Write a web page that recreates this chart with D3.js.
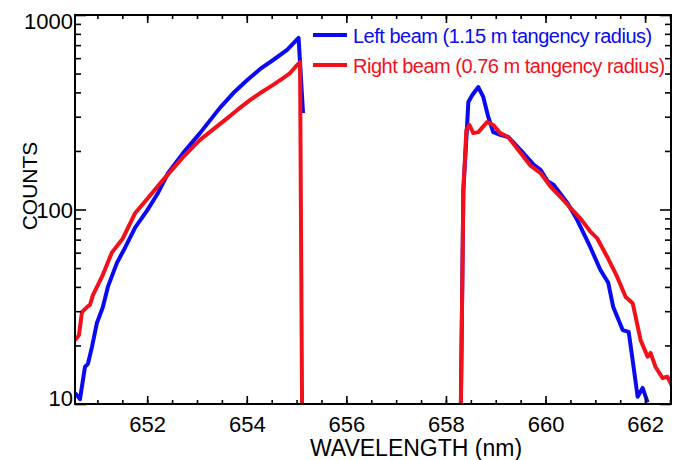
<!DOCTYPE html>
<html>
<head>
<meta charset="utf-8">
<script src="https://cdn.jsdelivr.net/npm/d3@7"></script>
<style>
  body { margin: 0; background: #fff; }
  text { font-family: "Liberation Sans", Arial, Helvetica, sans-serif; }
</style>
</head>
<body>
<div id="chart"></div>
<script>
// left beam (blue), two pieces separated by null
var leftWavelength = [650.55, 650.65, 650.75, 650.81, 650.89, 650.99, 651.11, 651.21, 651.39, 651.56,
    651.76, 652.00, 652.22, 652.42, 652.72, 653.06, 653.46, 653.73, 654.01, 654.27, 654.53, 654.81,
    655.04, 655.13,
    null,
    658.30, 658.35, 658.42, 658.45, 658.53, 658.65, 658.75, 658.85, 658.95, 659.09, 659.25, 659.50,
    659.76, 659.90, 660.04, 660.16, 660.44, 660.64, 660.90, 661.10, 661.26, 661.36, 661.55, 661.67,
    661.75, 661.85, 661.95, 662.05]
var leftCounts = [11.4, 10.6, 15.5, 16.1, 19.6, 26.1, 31.5, 40, 53, 64,
    81, 99, 122, 154, 195, 247, 333, 397, 463, 528, 587, 661,
    762, 313,
    null,
    10, 126, 256, 357, 388, 426, 379, 299, 250, 242, 236, 202,
    170, 160, 140, 134, 108, 88, 64, 49, 42, 31.5, 24, 23.5,
    16.8, 10.9, 12.1, 10.2]

// right beam (red)
var rightWavelength = [650.55, 650.63, 650.69, 650.79, 650.85, 650.91, 651.09, 651.29, 651.51, 651.76,
    652.02, 652.32, 652.72, 653.06, 653.61, 653.81, 654.07, 654.27, 654.53, 654.73, 654.87, 655.01,
    655.07, 655.11,
    null,
    658.30, 658.35, 658.41, 658.47, 658.55, 658.65, 658.83, 658.95, 659.09, 659.25, 659.50, 659.70,
    659.90, 660.10, 660.30, 660.50, 660.70, 660.90, 661.04, 661.24, 661.44, 661.61, 661.75, 661.91,
    662.05, 662.11, 662.21, 662.35, 662.45, 662.55]
var rightCounts = [21.3, 22.6, 29.7, 31.5, 32.3, 36.3, 45, 60, 71, 96,
    115, 142, 186, 228, 295, 325, 366, 397, 437, 474, 503, 553,
    573, 10,
    null,
    10, 126, 256, 272, 247, 250, 282, 272, 247, 236, 195, 168,
    154, 131, 116, 102, 90, 77, 71, 57, 45, 35.5, 33, 21.3,
    17.5, 18.3, 15.5, 13.6, 13.8, 12.2]

var seriesNames = ["Left beam (1.15 m tangency radius)", "Right beam (0.76 m tangency radius)"]
var seriesColors = ["#0a0af2", "#f2101a"]

var xMajor = [652, 654, 656, 658, 660, 662]
var xMinor = d3.range(651, 662.6, 0.5)
var yMajor = [10, 100, 1000]
var yMinor = [20, 30, 40, 50, 60, 70, 80, 90, 200, 300, 400, 500, 600, 700, 800, 900]

var width = 686, height = 460
var plotLeft = 75, plotRight = 671, plotTop = 15, plotBottom = 404

var svg = d3.select("#chart").append("svg")
    .attr("width", width)
    .attr("height", height)

var x = d3.scaleLinear().domain([650.55, 662.52]).range([plotLeft, plotRight])
var y = d3.scaleLog().domain([10, 1000]).range([plotBottom, plotTop])

svg.append("clipPath").attr("id", "plotclip")
  .append("rect")
    .attr("x", plotLeft).attr("y", plotTop)
    .attr("width", plotRight - plotLeft).attr("height", plotBottom - plotTop)

// curves
var series = [
  {name: seriesNames[0], color: seriesColors[0], wl: leftWavelength, c: leftCounts},
  {name: seriesNames[1], color: seriesColors[1], wl: rightWavelength, c: rightCounts}
]

var line = d3.line()
    .defined(function(d) { return d[0] != null })
    .x(function(d) { return x(d[0]) })
    .y(function(d) { return y(d[1]) })

series.forEach(function(s) {
  var pts = s.wl.map(function(w, i) { return [w, s.c[i]] })
  svg.append("path")
    .attr("d", line(pts))
    .attr("clip-path", "url(#plotclip)")
    .attr("fill", "none")
    .attr("stroke", s.color)
    .attr("stroke-width", 4)
    .attr("stroke-linejoin", "round")
})

// axes, ticks pointing inward
function styleAxis(g) {
  g.select(".domain").remove()
  g.selectAll(".tick line").attr("stroke", "#000").attr("stroke-width", 1.6)
  g.selectAll("text").attr("fill", "#000").style("font-size", "22px")
}

svg.append("g").attr("transform", "translate(0," + plotBottom + ")")
  .call(d3.axisBottom(x).tickValues(xMinor).tickSize(-4).tickFormat(""))
  .call(styleAxis)
svg.append("g").attr("transform", "translate(0," + plotBottom + ")")
  .call(d3.axisBottom(x).tickValues(xMajor).tickSize(-8).tickPadding(12).tickFormat(d3.format("d")))
  .call(styleAxis)
svg.append("g").attr("transform", "translate(0," + plotTop + ")")
  .call(d3.axisTop(x).tickValues(xMinor).tickSize(-4).tickFormat(""))
  .call(styleAxis)
svg.append("g").attr("transform", "translate(0," + plotTop + ")")
  .call(d3.axisTop(x).tickValues(xMajor).tickSize(-8).tickFormat(""))
  .call(styleAxis)

svg.append("g").attr("transform", "translate(" + plotLeft + ",0)")
  .call(d3.axisLeft(y).tickValues(yMinor).tickSize(-6).tickFormat(""))
  .call(styleAxis)
var yAxisG = svg.append("g").attr("transform", "translate(" + plotLeft + ",0)")
  .call(d3.axisLeft(y).tickValues(yMajor).tickSize(-11).tickPadding(2).tickFormat(d3.format("d")))
  .call(styleAxis)
yAxisG.selectAll(".tick text")
  .attr("dy", function(d) { return d == 1000 ? "0.62em" : d == 10 ? "0.05em" : "0.35em" })
svg.append("g").attr("transform", "translate(" + plotRight + ",0)")
  .call(d3.axisRight(y).tickValues(yMinor).tickSize(-6).tickFormat(""))
  .call(styleAxis)
svg.append("g").attr("transform", "translate(" + plotRight + ",0)")
  .call(d3.axisRight(y).tickValues(yMajor).tickSize(-11).tickFormat(""))
  .call(styleAxis)

svg.append("rect")
    .attr("x", plotLeft).attr("y", plotTop)
    .attr("width", plotRight - plotLeft).attr("height", plotBottom - plotTop)
    .attr("fill", "none")
    .attr("stroke", "#000")
    .attr("stroke-width", 2)

// axis titles
svg.append("text")
    .attr("x", 416).attr("y", 456)
    .attr("text-anchor", "middle")
    .style("font-size", "23px")
    .text("WAVELENGTH (nm)")

svg.append("text")
    .attr("transform", "translate(37,186) rotate(-90)")
    .attr("text-anchor", "middle")
    .style("font-size", "21px")
    .text("COUNTS")

// legend
var legend = svg.selectAll(".legend")
    .data(series)
    .enter().append("g")
    .attr("class", "legend")
    .attr("transform", function(d, i) { return "translate(313," + (35 + i * 30) + ")" })

legend.append("line")
    .attr("x1", 0).attr("x2", 34)
    .attr("stroke", function(d) { return d.color })
    .attr("stroke-width", 4)

legend.append("text")
    .attr("x", 40).attr("y", 7.5)
    .attr("fill", function(d) { return d.color })
    .style("font-size", "20px")
    .style("letter-spacing", "-0.5px")
    .text(function(d) { return d.name })
</script>
</body>
</html>
